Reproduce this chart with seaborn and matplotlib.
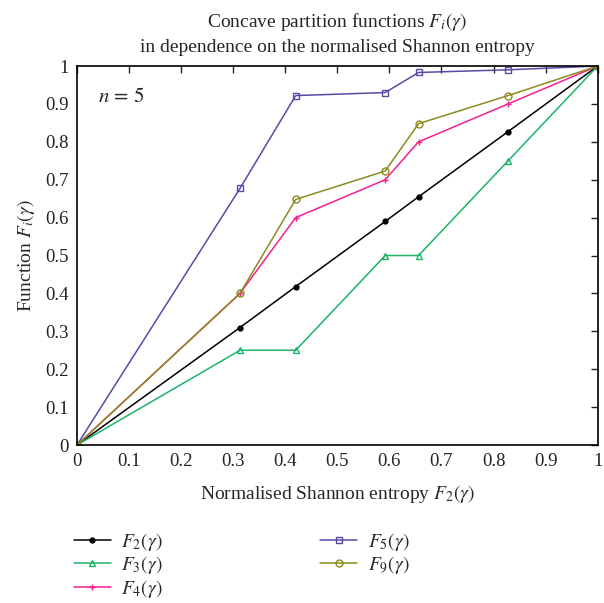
import pandas as pd
import numpy as np
import matplotlib
matplotlib.use("Agg")
import matplotlib.pyplot as plt
import seaborn as sns

# data
entropy = [0.0, 0.313, 0.42, 0.592, 0.656, 0.828, 1.0]
f2 = [0.0, 0.31, 0.418, 0.59, 0.655, 0.827, 1.0]
f3 = [0.0, 0.25, 0.25, 0.5, 0.5, 0.75, 1.0]
f4 = [0.0, 0.4, 0.6, 0.7, 0.8, 0.9, 1.0]
f5 = [0.0, 0.677, 0.922, 0.93, 0.983, 0.99, 1.0]
f9 = [0.0, 0.4, 0.648, 0.723, 0.848, 0.922, 1.0]

labels = [r"$F_2(\gamma)$", r"$F_3(\gamma)$", r"$F_4(\gamma)$", r"$F_5(\gamma)$", r"$F_9(\gamma)$"]
colors = ["#000000", "#1db368", "#f5208f", "#5a48a8", "#8c8a1c"]
markers = ["o", "^", "+", "s", "o"]
msizes = [3.5, 5, 5, 4, 5]
ticklabels = ["0", "0.1", "0.2", "0.3", "0.4", "0.5", "0.6", "0.7", "0.8", "0.9", "1"]

sns.set_theme(style="white")
plt.rcParams["font.family"] = ["Liberation Serif", "DejaVu Serif"]
plt.rcParams["mathtext.fontset"] = "stix"

fig = plt.figure(figsize=(6.04, 6.03), dpi=100)
ax = fig.add_axes([0.1275, 0.262, 0.862, 0.6285])

series = [f2, f3, f4, f5, f9]
for i, ys in enumerate(series):
    df = pd.DataFrame({"x": entropy, "y": ys})
    filled = i == 0
    sns.lineplot(data=df, x="x", y="y", ax=ax, color=colors[i], marker=markers[i],
                 markersize=msizes[i],
                 markerfacecolor=colors[i] if filled else "none",
                 markeredgecolor=colors[i], markeredgewidth=1.0,
                 linewidth=1.1, label=labels[i])

ax.set_xlim(0, 1)
ax.set_ylim(0, 1)
ax.set_xticks(np.arange(0, 1.01, 0.1))
ax.set_yticks(np.arange(0, 1.01, 0.1))
ax.set_xticklabels(ticklabels)
ax.set_yticklabels(ticklabels)
ax.tick_params(direction="in", length=5, width=1, top=True, right=True,
               labelsize=13.5, colors="#222222", pad=6)
for s in ax.spines.values():
    s.set_color("black")
    s.set_linewidth(1.2)

ax.set_xlabel(r"Normalised Shannon entropy $F_2(\gamma)$", fontsize=14, labelpad=9)
ax.set_ylabel(r"Function $F_i(\gamma)$", fontsize=14, labelpad=6)
ax.set_title("Concave partition functions $F_i(\\gamma)$\nin dependence on the normalised Shannon entropy",
             fontsize=14, pad=10, linespacing=1.5)
ax.text(0.04, 0.905, r"$n\,=\,5$", transform=ax.transAxes, fontsize=15)

ax.legend(loc="upper left", bbox_to_anchor=(-0.04, -0.18), ncol=2, frameon=False,
          fontsize=14, handlelength=1.9, columnspacing=8.1, labelspacing=0.08,
          handletextpad=0.55)

fig.savefig("out.png", dpi=100)
